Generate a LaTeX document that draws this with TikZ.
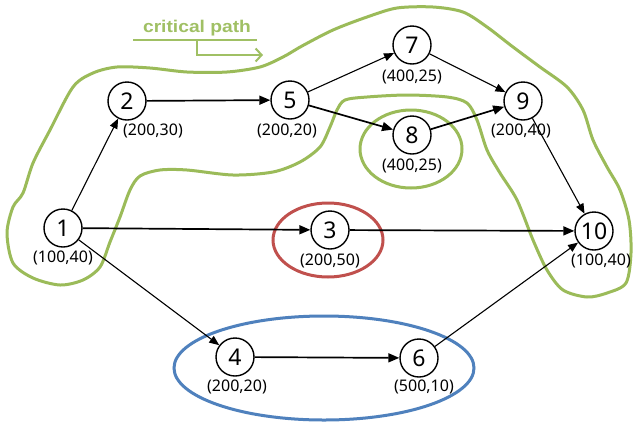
\documentclass[tikz,border=0pt]{standalone}
\usepackage{fontspec}
\setmainfont{Noto Sans}
\newfontfamily\legendfont{Liberation Sans}
\usetikzlibrary{arrows.meta}
\definecolor{cpgreen}{RGB}{155,187,89}
\definecolor{cplabel}{RGB}{160,192,100}
\definecolor{redring}{RGB}{192,80,77}
\definecolor{bluering}{RGB}{79,129,189}
\begin{document}
\begin{tikzpicture}[x=1pt,y=-1pt,
  event/.style={circle,draw,line width=1.4pt,minimum size=38pt,inner sep=0pt,
    font=\fontsize{23}{23}\selectfont},
  tag/.style={font=\fontsize{16}{16}\selectfont,inner sep=0pt},
  act/.style={line width=1.1pt,-{Triangle[length=10pt,width=8pt]}},
  crit/.style={line width=1.7pt,-{Triangle[length=11pt,width=9pt]}},
  ring/.style={line width=3pt}]
\useasboundingbox[fill=white] (0,0) rectangle (634,421);

% groupings
\draw[ring,cpgreen,line join=round] plot[smooth cycle,tension=0.5] coordinates {
  (100,267) (83,280) (60,285) (33,278) (13,263) (7,233) (13,207) (23,193)
  (33,163) (50,130) (73,87) (93,73) (117,67) (150,68) (187,72) (227,72)
  (260,67) (283,57) (302,46) (333,30) (367,17) (397,8) (433,7) (463,12)
  (487,27) (513,47) (540,67) (567,87) (583,110) (593,140) (607,167)
  (620,190) (629,220) (631,253) (626,283) (607,293) (587,297) (563,290)
  (547,270) (533,240) (517,200) (500,173) (487,150) (477,120) (467,103)
  (447,97) (407,95) (367,97) (345,100) (337,110) (330,127) (320,147)
  (300,162) (273,172) (233,175) (187,170) (160,170) (140,176) (130,190)
  (120,217) (110,242)};
\draw[ring,cpgreen] (411,149) ellipse [x radius=51pt,y radius=39pt];
\draw[ring,redring] (328,240) ellipse [x radius=55pt,y radius=37pt];
\draw[ring,bluering] (324,368) ellipse [x radius=150pt,y radius=52pt];

% legend
\node[font=\legendfont\fontsize{17}{17}\selectfont\bfseries,text=cplabel,
  inner sep=0pt,xscale=1.13] (cp) at (197,28) {critical path};
\coordinate (ulA) at (133,40);
\coordinate (ulB) at (257,40);
\coordinate (ulM) at (197,40);
\coordinate (ulE) at (263,55);
\draw[cplabel,line width=2pt] (ulA) -- (ulB);
\draw[cplabel,line width=2pt,-{Straight Barb[length=6pt,width=13pt]}] (ulM) |- (ulE);

% events
\node[event] (n1) at (63,228) {1};
\node[event] (n2) at (127,101) {2};
\node[event] (n5) at (290,100) {5};
\node[event] (n7) at (412,45) {7};
\node[event] (n8) at (412,135) {8};
\node[event] (n9) at (523,101) {9};
\node[event] (n10) at (594,231) {10};
\node[event] (n3) at (330,230) {3};
\node[event] (n4) at (235,357) {4};
\node[event] (n6) at (419,358) {6};

% durations
\node[tag] (t1) at (63,258) {(100,40)};
\node[tag] (t2) at (153,131) {(200,30)};
\node[tag] (t5) at (287,131) {(200,20)};
\node[tag] (t7) at (412,77) {(400,25)};
\node[tag] (t8) at (412,166) {(400,25)};
\node[tag] (t9) at (521,131) {(200,40)};
\node[tag] (t10) at (601,261) {(100,40)};
\node[tag] (t3) at (330,261) {(200,50)};
\node[tag] (t4) at (237,387) {(200,20)};
\node[tag] (t6) at (424,387) {(500,10)};

% activities
\draw[act] (n1) -- (n2);
\draw[crit] (n2) -- (n5);
\draw[act] (n5) -- (n7);
\draw[crit] (n5) -- (n8);
\draw[act] (n7) -- (n9);
\draw[crit] (n8) -- (n9);
\draw[act] (n9) -- (n10);
\draw[crit] (n1) -- (n3);
\draw[crit] (n3) -- (n10);
\draw[act] (n1) -- (n4);
\draw[crit] (n4) -- (n6);
\draw[act] (n6) -- (n10);
\end{tikzpicture}
\end{document}
